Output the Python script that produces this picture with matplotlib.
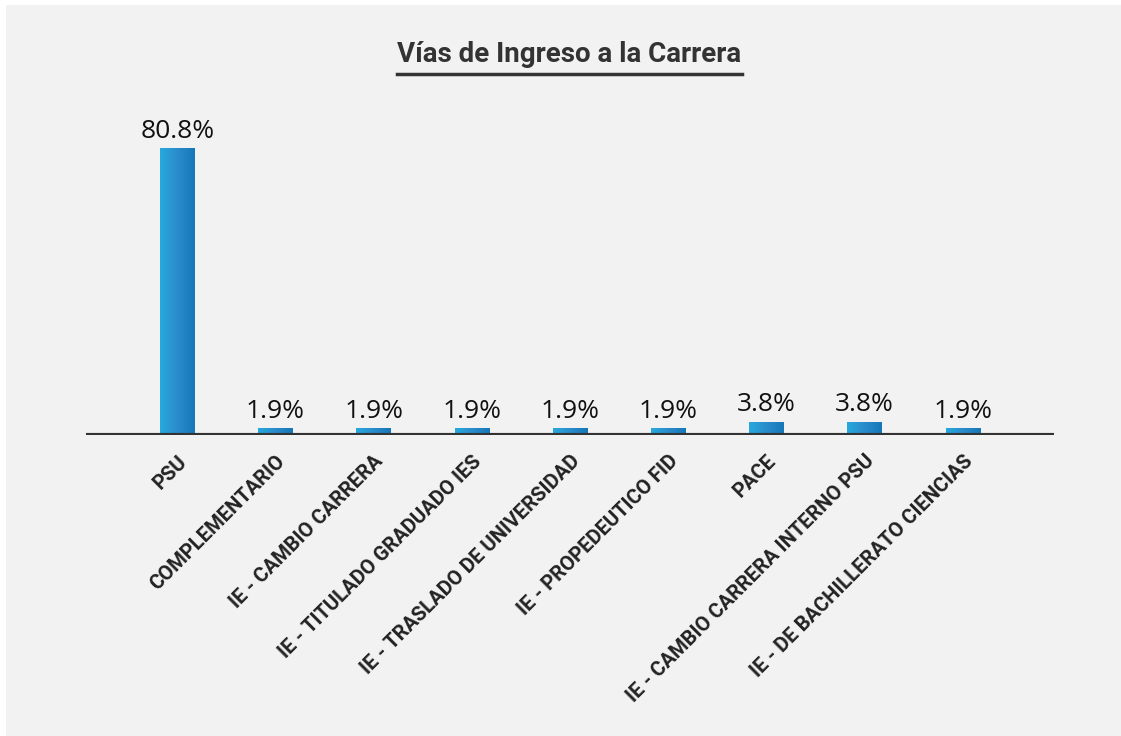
import matplotlib.pyplot as plt
import numpy as np
from matplotlib.patches import Rectangle
from matplotlib.colors import LinearSegmentedColormap

# data
categorias = ["PSU", "COMPLEMENTARIO", "IE - CAMBIO CARRERA", "IE - TITULADO GRADUADO IES",
              "IE - TRASLADO DE UNIVERSIDAD", "IE - PROPEDEUTICO FID", "PACE",
              "IE - CAMBIO CARRERA INTERNO PSU", "IE - DE BACHILLERATO CIENCIAS"]
porcentajes = [80.8, 1.9, 1.9, 1.9, 1.9, 1.9, 3.8, 3.8, 1.9]
titulo = "Vías de Ingreso a la Carrera"

fig = plt.figure(figsize=(11.21, 7.36), dpi=100)
fig.patch.set_facecolor("white")
# gray panel
fig.patches.append(Rectangle((6/1121, 0), 1, 1 - 5/736, transform=fig.transFigure,
                             facecolor="#f2f2f2", edgecolor="none", zorder=-10))

ax = fig.add_axes([86/1121, (736-435)/736, (1054-86)/1121, (435-110)/736])
ax.set_facecolor("none")

x = np.arange(len(categorias))
bars = ax.bar(x, porcentajes, width=0.35, color="none", edgecolor="none")

# gradient fill for each bar
cmap = LinearSegmentedColormap.from_list("azul", ["#27a9dd", "#2a8ccb", "#1577b7"])
grad = np.linspace(0, 1, 256).reshape(1, -1)
for b in bars:
    x0, y0 = b.get_x(), b.get_y()
    w, h = b.get_width(), b.get_height()
    im = ax.imshow(grad, cmap=cmap, aspect="auto", extent=(x0, x0 + w, y0, y0 + h), zorder=2)
    im.set_clip_path(b)

for xi, v in zip(x, porcentajes):
    ax.text(xi, v + 1.2, f"{v}%", ha="center", va="bottom", fontsize=19,
            family="Open Sans", color="#111111")

ax.set_xlim(-0.93, len(categorias) - 1 + 0.93)
ax.set_ylim(0, 91.5)
ax.axhline(0, color="#333333", lw=3, zorder=3)

for s in ax.spines.values():
    s.set_visible(False)
ax.set_yticks([])
ax.set_xticks(x)
ax.set_xticklabels(categorias, rotation=45, ha="right", rotation_mode="anchor",
                   fontsize=14.5, fontweight="bold", family="Roboto", color="#222222")
ax.tick_params(axis="x", length=0, pad=12)

# title with underline
t = fig.text(569.5/1121, (736-55)/736, titulo, ha="center", va="center", fontsize=20,
             fontweight="bold", family="Roboto", color="#333333")
fig.canvas.draw()
bb = t.get_window_extent()
fig.add_artist(plt.Line2D([bb.x0 / 1121, bb.x1 / 1121], [(736-74)/736] * 2,
                          transform=fig.transFigure, color="#333333", lw=2.5))

fig.savefig("out.png", dpi=100, facecolor=fig.get_facecolor())
